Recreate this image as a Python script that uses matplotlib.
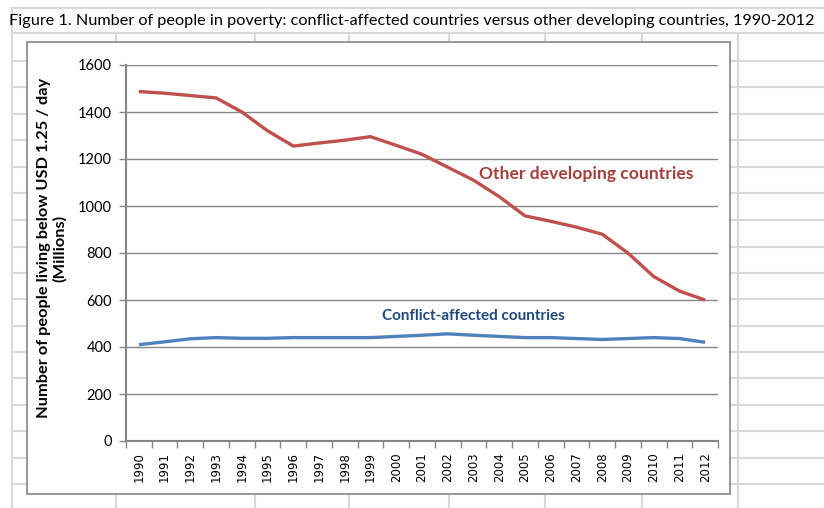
import matplotlib
matplotlib.use("Agg")
import matplotlib.pyplot as plt
from matplotlib.lines import Line2D
from matplotlib.patches import Rectangle
from matplotlib.ticker import FixedLocator, NullFormatter

# ---------------------------------------------------------------
# Data (millions of people below USD 1.25 / day)
# ---------------------------------------------------------------
years = [str(y) for y in range(1990, 2013)]
other_developing = [1487, 1480, 1470, 1460, 1400, 1320, 1255, 1268, 1280, 1295,
                    1258, 1220, 1165, 1110, 1040, 958, 935, 910, 880, 800,
                    700, 638, 600]
conflict_affected = [410, 422, 435, 440, 437, 437, 440, 440, 440, 440,
                     445, 450, 456, 450, 445, 440, 440, 436, 432, 436,
                     440, 436, 420]
y_ticks = [0, 200, 400, 600, 800, 1000, 1200, 1400, 1600]

RED = "#C0504D"
BLUE = "#4F81BD"
SHEET = "#D9D9D9"
FRAME = "#868686"

W, H = 824, 508
fig = plt.figure(figsize=(W / 100, H / 100), dpi=100)
fig.patch.set_facecolor("white")
plt.rcParams["font.family"] = ["Lato", "DejaVu Sans"]


def px_line(x0, y0, x1, y1, **kw):
    fig.add_artist(Line2D([x0 / W, x1 / W], [1 - y0 / H, 1 - y1 / H],
                          transform=fig.transFigure, **kw))


def fit(txt, target, vertical=False):
    # shrink / grow a text so that it spans the given number of pixels
    r = fig.canvas.get_renderer()
    bb = txt.get_window_extent(r)
    size = bb.height if vertical else bb.width
    txt.set_fontsize(txt.get_fontsize() * target / size)


# spreadsheet grid in the background
px_line(12, 8, W, 8, color=SHEET, lw=1.5, zorder=0)
px_line(12, 33, W, 33, color=SHEET, lw=1.5, zorder=0)
px_line(12, 8, 12, H, color=SHEET, lw=1.5, zorder=0)
for x in [116, 255, 349, 449, 545, 642, 738]:
    px_line(x, 33, x, H, color=SHEET, lw=1.5, zorder=0)
for y in [61, 87, 114, 140, 167, 193, 220, 247, 273, 299, 326, 352, 378,
          405, 431, 458, 484]:
    px_line(12, y, W, y, color=SHEET, lw=1.5, zorder=0)

# chart frame
fig.add_artist(Rectangle((27 / W, 1 - 494 / H), (730 - 27) / W, (494 - 42) / H,
                         transform=fig.transFigure, facecolor="white",
                         edgecolor=FRAME, lw=1.2, zorder=1))

title = fig.text(9 / W, 1 - 21 / H,
                 "Figure 1. Number of people in poverty: conflict-affected countries "
                 "versus other developing countries, 1990-2012",
                 ha="left", va="center", fontsize=12, color="black")
fit(title, 802)

ax = fig.add_axes([126 / W, 1 - 441 / H, 592 / W, 376 / H], zorder=2)
ax.patch.set_alpha(0)
x = list(range(len(years)))
ax.plot(x, other_developing, color=RED, lw=2.4, solid_capstyle="butt", zorder=3)
ax.plot(x, conflict_affected, color=BLUE, lw=2.4, solid_capstyle="butt", zorder=3)

ax.set_xlim(-0.5, len(years) - 0.5)
ax.set_ylim(0, 1600)
ax.set_yticks(y_ticks)
ax.set_yticklabels([str(v) for v in y_ticks], fontsize=10.5)
ax.grid(axis="y", color=FRAME, lw=1.0)
ax.set_axisbelow(True)

ax.set_xticks(x)
ax.set_xticklabels(years, rotation=90, fontsize=8.5, family="DejaVu Sans")
ax.tick_params(axis="x", which="major", length=0, pad=8)
ax.xaxis.set_minor_locator(FixedLocator([i - 0.5 for i in range(len(years) + 1)]))
ax.xaxis.set_minor_formatter(NullFormatter())
ax.tick_params(axis="x", which="minor", length=5, color=FRAME, width=1)
ax.tick_params(axis="y", length=5, color=FRAME, width=1, pad=5)

for s in ["top", "right"]:
    ax.spines[s].set_visible(False)
for s in ["left", "bottom"]:
    ax.spines[s].set_color(FRAME)
    ax.spines[s].set_linewidth(1.5)

ylab = fig.text(52 / W, 1 - 248 / H,
                "Number of people living below USD 1.25 / day\n(Millions)",
                rotation=90, ha="center", va="center", ma="center",
                fontsize=10, fontweight="bold", linespacing=1.05)
fit(ylab, 340, vertical=True)

lab1 = ax.text(13.2, 1136, "Other developing countries", color="#A33F3C",
               fontsize=11.5, fontweight="bold", ha="left", va="center")
fit(lab1, 213)
lab2 = ax.text(9.45, 532, "Conflict-affected countries", color="#1F497D",
               fontsize=11.5, fontweight="bold", ha="left", va="center")
fit(lab2, 182)

fig.savefig("out.png", dpi=100, facecolor="white")
